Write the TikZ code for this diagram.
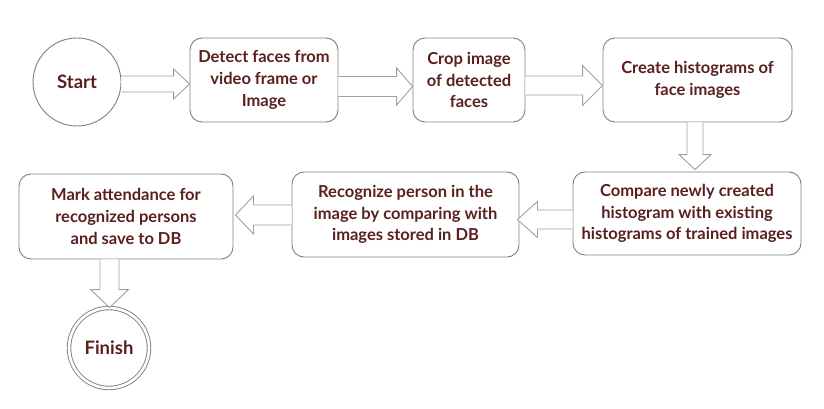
\documentclass[tikz,border=0pt]{standalone}
\usepackage{fontspec}
\setmainfont{Lato}[UprightFont=* Bold]
\usetikzlibrary{calc,positioning}
\definecolor{txt}{RGB}{90,32,30}
\definecolor{bord}{RGB}{128,128,128}
\definecolor{arr}{RGB}{160,160,160}
\newcommand\harrow[5]{\draw[blk] let \p1=#1, \p2=#2 in ({\x1},{\y2+#3}) -- ({\x2-(#5)},{\y2+#3}) -- ({\x2-(#5)},{\y2+#4}) -- ({\x2},{\y2}) -- ({\x2-(#5)},{\y2-#4}) -- ({\x2-(#5)},{\y2-#3}) -- ({\x1},{\y2-#3});}
\newcommand\varrow[5]{\draw[blk] let \p1=#1, \p2=#2 in ({\x2-#3},{\y1}) -- ({\x2-#3},{\y2+#5}) -- ({\x2-#4},{\y2+#5}) -- ({\x2},{\y2}) -- ({\x2+#4},{\y2+#5}) -- ({\x2+#3},{\y2+#5}) -- ({\x2+#3},{\y1});}
\tikzset{
  box/.style={draw=bord, line width=0.9pt, rounded corners=12pt, fill=white, text=txt, align=center, font=\fontsize{16.5}{21.8}\selectfont, inner sep=0pt},
  term/.style={draw=bord, line width=0.9pt, circle, fill=white, text=txt, font=\fontsize{18.5}{22}\selectfont, inner sep=0pt},
  blk/.style={draw=arr, line width=0.9pt, fill=white, line join=miter},
}
\begin{document}
\begin{tikzpicture}[x=1pt,y=-1pt]
\useasboundingbox[fill=white] (0,0) rectangle (824,409);
\node[term, minimum size=88pt] (start) at (77,82) {Start};
\node[box, minimum width=148pt, minimum height=84pt] (detect) at (264,80) {Detect faces from\\video frame or\\Image};
\node[box, minimum width=112pt, minimum height=84pt] (crop) at (469,80) {Crop image\\of detected\\faces};
\node[box, minimum width=189pt, minimum height=84pt] (create) at (697.5,80) {Create histograms of\\face images};
\node[box, minimum width=228pt, minimum height=83pt] (compare) at (687,213.5) {Compare newly created\\histogram with existing\\histograms of trained images};
\node[box, minimum width=227pt, minimum height=85pt] (recog) at (405.5,214.5) {Recognize person in the\\image by comparing with\\images stored in DB};
\node[box, minimum width=214pt, minimum height=85pt] (mark) at (126,216.5) {Mark attendance for\\recognized persons\\and save to DB};
\node[term, minimum size=80pt, double=white, double distance=2.6pt] (finish) at (109,348) {Finish};
\harrow{($(start.east)+(0,2)$)}{($(detect.west)+(0,4)$)}{8}{15}{16}
\harrow{($(detect.east)+(0,6.5)$)}{($(crop.west)+(0,6.5)$)}{10}{18.5}{16}
\harrow{($(crop.east)+(0,5.5)$)}{($(create.west)+(0,5.5)$)}{9.5}{20}{20}
\varrow{($(create.south)+(-2.5,0)$)}{($(compare.north)+(8,-2)$)}{8}{16}{15}
\harrow{($(compare.west)+(0,6)$)}{($(recog.east)+(-2,5)$)}{9.5}{18}{-20}
\harrow{($(recog.west)+(0,0.5)$)}{($(mark.east)+(2,-1.5)$)}{10}{19}{-18}
\varrow{($(mark.south)+(-16.5,0)$)}{($(finish.north)+(0.5,0)$)}{9.5}{19}{18}
\end{tikzpicture}
\end{document}
